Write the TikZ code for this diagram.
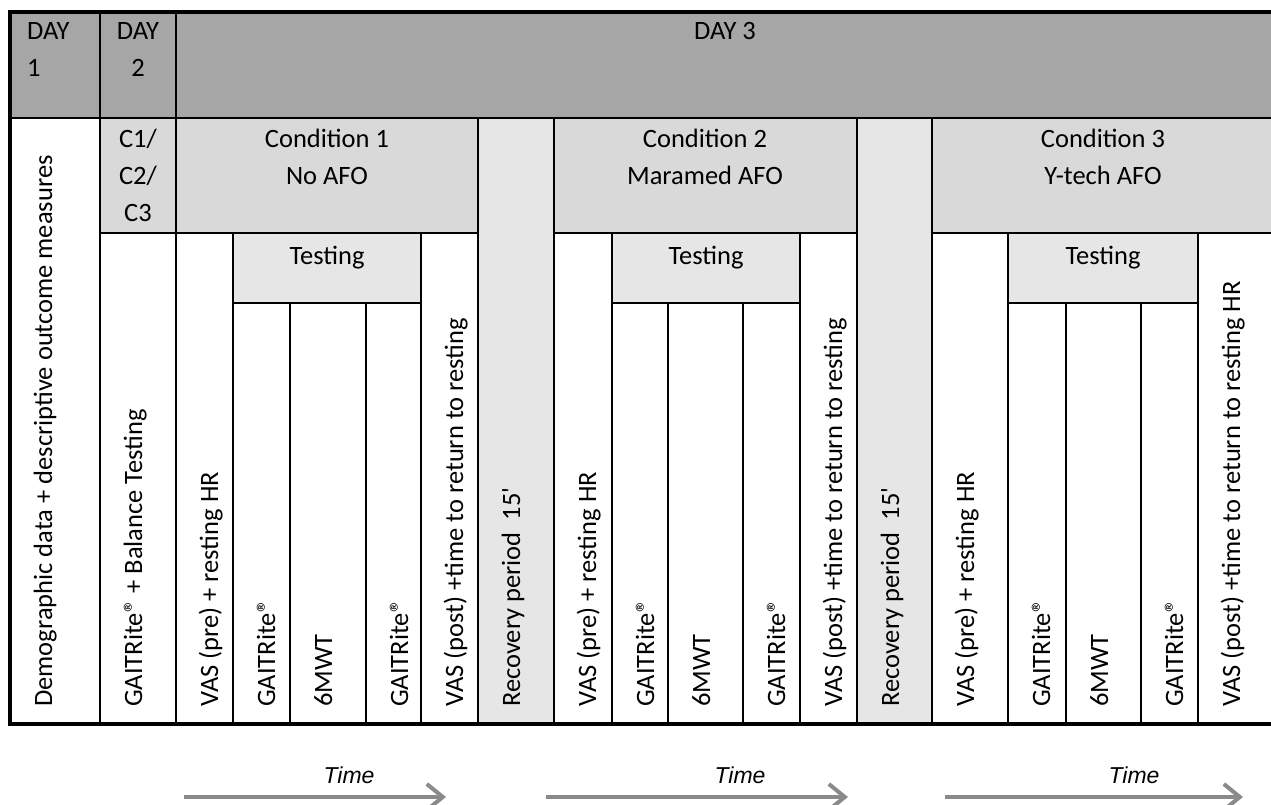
\documentclass[tikz,border=0pt]{standalone}
\usepackage{fontspec}
\setmainfont{Carlito}
\newfontfamily\timefont{Liberation Sans}
\usetikzlibrary{arrows.meta}
\definecolor{headgray}{HTML}{A6A6A6}
\definecolor{condgray}{HTML}{D9D9D9}
\definecolor{cellgray}{HTML}{E6E6E6}
\definecolor{arrowgray}{HTML}{8A8A8A}
\newcommand{\gaitrite}{GAITRite\textregistered}

\begin{document}
\begin{tikzpicture}[x=1pt,y=-1pt,
		rule/.style={line width=2.8pt},
		vtext/.style={rotate=90,anchor=base west,inner sep=0pt,font=\fontsize{26.5}{37}\selectfont},
		htext/.style={anchor=base,inner sep=0pt,align=center,font=\fontsize{26.5}{37}\selectfont},
		timelabel/.style={anchor=base,inner sep=0pt,font=\timefont\itshape\fontsize{23}{28}\selectfont},
		timearrow/.style={line width=4pt,draw=arrowgray,-{Straight Barb[length=16pt,width=26pt]}}]
			\useasboundingbox (0,0) rectangle (1271,805);
			% shading of the cells
			\fill[headgray] (10,12) rectangle (1274,118);
			\foreach \a/\b in {100/176,176/478,554/857,932/1274} { \fill[condgray] (\a,118) rectangle (\b,233); }
			\foreach \a/\b in {478/554,857/932} { \fill[cellgray] (\a,118) rectangle (\b,724); }
			\foreach \a/\b in {233/421,612/800,1008/1198} { \fill[cellgray] (\a,233) rectangle (\b,303); }
			% grid lines
			\draw[rule] (10,118) -- (1274,118);
			\foreach \a/\b in {100/478,554/857,932/1274} { \draw[rule] (\a,233) -- (\b,233); }
			\foreach \a/\b in {233/421,612/800,1008/1198} { \draw[rule] (\a,303) -- (\b,303); }
			\foreach \x in {100,176} { \draw[rule] (\x,12) -- (\x,724); }
			\foreach \x in {478,554,857,932} { \draw[rule] (\x,118) -- (\x,724); }
			\foreach \x in {233,421,612,800,1008,1198} { \draw[rule] (\x,233) -- (\x,724); }
			\foreach \x in {290,366,668,743,1066,1141} { \draw[rule] (\x,303) -- (\x,724); }
			\draw[line width=4pt] (10,12) rectangle (1274,724);
			% header texts (base = last line)
			\node[htext,align=left,anchor=base west] (day1) at (27,77) {DAY\\1};
			\node[htext] (day2) at (138,77) {DAY\\2};
			\node[htext] (day3) at (725,40) {DAY 3};
			\node[htext] (cond0) at (138,222) {C1/\\C2/\\C3};
			\node[htext] (cond1) at (327,185) {Condition 1\\No AFO};
			\node[htext] (cond2) at (705,185) {Condition 2\\Maramed AFO};
			\node[htext] (cond3) at (1103,185) {Condition 3\\Y-tech AFO};
			\foreach \x [count=\i] in {327,706,1103} { \node[htext] (test\i) at (\x,264) {Testing}; }
			% rotated column texts
			\foreach \x/\t [count=\i] in {10/Demographic data + descriptive outcome measures,100/\gaitrite{} + Balance Testing,
				176/VAS (pre) + resting HR,233/\gaitrite,290/6MWT,366/\gaitrite,421/VAS (post) +time to return to resting,
				478/Recovery period~~15\textquotesingle,554/VAS (pre) + resting HR,612/\gaitrite,668/6MWT,743/\gaitrite,
				800/VAS (post) +time to return to resting,857/Recovery period~~15\textquotesingle,932/VAS (pre) + resting HR,
				1008/\gaitrite,1066/6MWT,1141/\gaitrite,1198/VAS (post) +time to return to resting HR}
				{ \node[vtext] (col\i) at (\x+42,707) {\t}; }
			% time arrows
			\foreach \s/\e/\m [count=\i] in {184/446/349,546/848/740,945/1243/1134} {
				\coordinate (ts\i) at (\s,797);
				\coordinate (te\i) at (\e,797);
				\node[timelabel] (time\i) at (\m,783) {Time};
				\draw[timearrow] (ts\i) -- (te\i);
			}
		\end{tikzpicture}
\end{document}
